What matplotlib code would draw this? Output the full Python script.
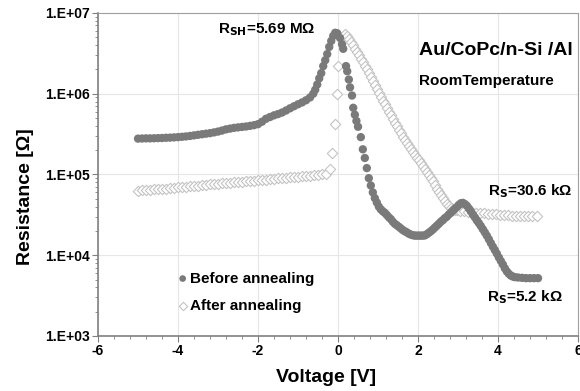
import numpy as np
import matplotlib
matplotlib.use("Agg")
import matplotlib.pyplot as plt
from matplotlib.ticker import MultipleLocator, LogLocator, FuncFormatter

plt.rcParams['font.family'] = ['Liberation Sans', 'DejaVu Sans']
plt.rcParams['font.weight'] = 'bold'

# Before annealing (filled gray circles)
v_before = [-5.0, -4.9, -4.8, -4.7, -4.6, -4.5, -4.4, -4.3, -4.2, -4.1, -4.0,
            -3.9, -3.8, -3.7, -3.6, -3.5, -3.4, -3.3, -3.2, -3.1, -3.0,
            -2.9, -2.8, -2.7, -2.6, -2.5, -2.4, -2.3, -2.2, -2.1, -2.0,
            -1.9, -1.8, -1.7, -1.6, -1.5, -1.4, -1.3, -1.2, -1.1, -1.0,
            -0.9, -0.8, -0.7, -0.62, -0.57, -0.52, -0.47, -0.42, -0.37, -0.32,
            -0.27, -0.22, -0.17, -0.12, -0.07, -0.02, 0.05, 0.1, 0.13, 0.2,
            0.23, 0.27, 0.3, 0.35, 0.38, 0.42, 0.46, 0.5, 0.57, 0.62,
            0.67, 0.72, 0.77, 0.82, 0.87, 0.92, 0.97, 1.02, 1.07, 1.12,
            1.17, 1.22, 1.27, 1.32, 1.37, 1.42, 1.47, 1.52, 1.57, 1.62,
            1.67, 1.72, 1.77, 1.82, 1.87, 1.92, 1.97, 2.02, 2.07, 2.12,
            2.17, 2.22, 2.27, 2.32, 2.37, 2.42, 2.47, 2.52, 2.57, 2.62,
            2.67, 2.72, 2.77, 2.82, 2.87, 2.92, 2.97, 3.02, 3.07, 3.12,
            3.17, 3.22, 3.27, 3.32, 3.37, 3.42, 3.47, 3.52, 3.57, 3.62,
            3.67, 3.72, 3.77, 3.82, 3.87, 3.92, 3.97, 4.02, 4.07, 4.12,
            4.17, 4.22, 4.27, 4.32, 4.37, 4.42, 4.5, 4.6, 4.7, 4.8, 4.9, 5.0]
r_before = [2.78e5, 2.79e5, 2.8e5, 2.8e5, 2.81e5, 2.82e5, 2.83e5, 2.85e5, 2.86e5, 2.88e5, 2.9e5,
            2.93e5, 2.96e5, 3.0e5, 3.05e5, 3.1e5, 3.15e5, 3.2e5, 3.25e5, 3.32e5, 3.4e5,
            3.5e5, 3.62e5, 3.7e5, 3.78e5, 3.83e5, 3.88e5, 3.93e5, 4.0e5, 4.08e5, 4.2e5,
            4.5e5, 4.9e5, 5.15e5, 5.4e5, 5.6e5, 5.85e5, 6.2e5, 6.6e5, 7.0e5, 7.4e5,
            7.8e5, 8.3e5, 9.0e5, 1.0e6, 1.12e6, 1.3e6, 1.55e6, 1.8e6, 2.2e6, 2.6e6,
            3.1e6, 3.8e6, 4.5e6, 5.2e6, 5.69e6, 5.6e6, 4.9e6, 4.1e6, 3.6e6, 2.2e6,
            1.9e6, 1.5e6, 1.2e6, 9.5e5, 6.7e5, 5.5e5, 4.6e5, 3.9e5, 2.9e5, 2.05e5,
            1.6e5, 1.2e5, 9.0e4, 7.3e4, 6.0e4, 5.1e4, 4.5e4, 4.0e4, 3.7e4, 3.5e4,
            3.35e4, 3.15e4, 2.95e4, 2.8e4, 2.6e4, 2.45e4, 2.35e4, 2.25e4, 2.15e4, 2.05e4,
            1.98e4, 1.92e4, 1.85e4, 1.8e4, 1.77e4, 1.75e4, 1.75e4, 1.75e4, 1.75e4, 1.75e4,
            1.76e4, 1.82e4, 1.9e4, 1.98e4, 2.08e4, 2.2e4, 2.32e4, 2.45e4, 2.6e4, 2.72e4,
            2.88e4, 3.0e4, 3.2e4, 3.35e4, 3.55e4, 3.75e4, 3.95e4, 4.2e4, 4.4e4, 4.45e4,
            4.3e4, 4.1e4, 3.8e4, 3.5e4, 3.2e4, 2.95e4, 2.7e4, 2.5e4, 2.3e4, 2.1e4,
            1.92e4, 1.75e4, 1.58e4, 1.42e4, 1.28e4, 1.16e4, 1.05e4, 9.4e3, 8.5e3, 7.7e3,
            6.9e3, 6.3e3, 5.9e3, 5.6e3, 5.45e3, 5.35e3, 5.3e3, 5.25e3, 5.2e3, 5.2e3, 5.2e3, 5.2e3]

# After annealing (open diamonds)
v_after = [-5.0, -4.9, -4.8, -4.7, -4.6, -4.5, -4.4, -4.3, -4.2, -4.1, -4.0,
           -3.9, -3.8, -3.7, -3.6, -3.5, -3.4, -3.3, -3.2, -3.1, -3.0,
           -2.9, -2.8, -2.7, -2.6, -2.5, -2.4, -2.3, -2.2, -2.1, -2.0,
           -1.9, -1.8, -1.7, -1.6, -1.5, -1.4, -1.3, -1.2, -1.1, -1.0,
           -0.9, -0.8, -0.7, -0.6, -0.5, -0.4, -0.3, -0.2, -0.15, -0.08,
           -0.03, 0.0, 0.1, 0.17, 0.22, 0.27, 0.32, 0.37, 0.42, 0.47,
           0.52, 0.57, 0.62, 0.67, 0.72, 0.77, 0.82, 0.87, 0.92, 0.97,
           1.02, 1.07, 1.12, 1.17, 1.22, 1.27, 1.32, 1.37, 1.42, 1.47,
           1.52, 1.57, 1.62, 1.67, 1.72, 1.77, 1.82, 1.87, 1.92, 1.97,
           2.02, 2.07, 2.12, 2.17, 2.22, 2.27, 2.32, 2.37, 2.42, 2.47,
           2.52, 2.57, 2.62, 2.67, 2.72, 2.77, 2.82, 2.87, 2.92, 2.97,
           3.05, 3.15, 3.25, 3.35, 3.45, 3.55, 3.65, 3.75, 3.85, 3.95,
           4.05, 4.15, 4.25, 4.35, 4.45, 4.55, 4.65, 4.75, 4.85, 4.97]
r_after = [6.3e4, 6.35e4, 6.4e4, 6.5e4, 6.55e4, 6.6e4, 6.65e4, 6.7e4, 6.8e4, 6.85e4, 6.9e4,
           6.95e4, 7.0e4, 7.1e4, 7.2e4, 7.3e4, 7.35e4, 7.45e4, 7.55e4, 7.6e4, 7.7e4,
           7.75e4, 7.85e4, 7.9e4, 8.0e4, 8.1e4, 8.15e4, 8.25e4, 8.3e4, 8.4e4, 8.5e4,
           8.55e4, 8.65e4, 8.75e4, 8.85e4, 8.95e4, 9.0e4, 9.1e4, 9.2e4, 9.3e4, 9.4e4,
           9.45e4, 9.55e4, 9.65e4, 9.75e4, 9.85e4, 1.0e5, 1.02e5, 1.18e5, 1.87e5, 4.2e5,
           1.0e6, 2.2e6, 5.0e6, 5.5e6, 5.2e6, 4.8e6, 4.4e6, 4.0e6, 3.6e6, 3.3e6,
           3.0e6, 2.7e6, 2.45e6, 2.2e6, 2.0e6, 1.8e6, 1.6e6, 1.45e6, 1.3e6, 1.15e6,
           1.02e6, 9.2e5, 8.2e5, 7.4e5, 6.6e5, 6.0e5, 5.4e5, 4.9e5, 4.4e5, 4.0e5,
           3.6e5, 3.25e5, 2.95e5, 2.7e5, 2.45e5, 2.25e5, 2.05e5, 1.9e5, 1.75e5, 1.62e5,
           1.5e5, 1.38e5, 1.27e5, 1.17e5, 1.08e5, 9.9e4, 9.0e4, 8.2e4, 7.4e4, 6.7e4,
           6.1e4, 5.6e4, 5.1e4, 4.7e4, 4.35e4, 4.1e4, 3.9e4, 3.75e4, 3.65e4, 3.6e4,
           3.55e4, 3.5e4, 3.45e4, 3.4e4, 3.38e4, 3.35e4, 3.3e4, 3.27e4, 3.24e4, 3.2e4,
           3.18e4, 3.15e4, 3.13e4, 3.1e4, 3.1e4, 3.08e4, 3.07e4, 3.06e4, 3.06e4, 3.06e4]

fig = plt.figure(figsize=(5.8, 3.91), dpi=100)
ax = fig.add_axes([0.169, 0.1407, 0.8276, 0.8261])

ax.scatter(v_after, r_after, marker='D', s=28, facecolors='white',
           edgecolors='#c4c4c4', linewidths=0.8, zorder=3, label='After annealing')
ax.scatter(v_before, r_before, marker='o', s=36, color='#7a7a7a',
           edgecolors='none', zorder=4, label='Before annealing')

ax.set_yscale('log')
ax.set_xlim(-6, 6)
ax.set_ylim(1e3, 1e7)
ax.xaxis.set_major_locator(MultipleLocator(2))
ax.xaxis.set_minor_locator(MultipleLocator(0.4))
ax.yaxis.set_major_locator(LogLocator(base=10, numticks=10))
ax.yaxis.set_minor_locator(LogLocator(base=10, subs=np.arange(2, 10), numticks=10))
ax.yaxis.set_minor_formatter(FuncFormatter(lambda v, p: ''))
ax.yaxis.set_major_formatter(FuncFormatter(lambda v, p: '1.E+%02d' % int(round(np.log10(v)))))
ax.xaxis.set_major_formatter(FuncFormatter(lambda v, p: '%d' % v))

ax.grid(True, which='major', color='#e6e6e6', linewidth=0.8, zorder=0)
ax.set_axisbelow(True)
for s in ['left', 'bottom']:
    ax.spines[s].set_color('#808080')
    ax.spines[s].set_linewidth(1.2)
for s in ['top', 'right']:
    ax.spines[s].set_color('#a0a0a0')
    ax.spines[s].set_linewidth(0.8)

ax.tick_params(which='major', direction='out', length=4, color='#808080',
               labelsize=10, pad=2)
ax.tick_params(which='minor', direction='out', length=2.5, color='#808080')
for lab in ax.get_xticklabels() + ax.get_yticklabels():
    lab.set_fontweight('bold')

ax.set_xlabel('Voltage [V]', fontsize=14, fontweight='bold')
ax.set_ylabel('Resistance [Ω]', fontsize=14, fontweight='bold')
ax.xaxis.set_label_coords(0.475, -0.102)
ax.yaxis.set_label_coords(-0.133, 0.43)

ax.text(-3.0, 6.3e6, 'R$_{\\mathbf{SH}}$=5.69 MΩ', fontsize=11, fontweight='bold',
        ha='left', va='center')
ax.text(2.02, 3.4e6, 'Au/CoPc/n-Si /Al', fontsize=14, fontweight='bold',
        ha='left', va='center')
ax.text(2.02, 1.45e6, 'RoomTemperature', fontsize=11, fontweight='bold',
        ha='left', va='center')
ax.text(3.75, 6.3e4, 'R$_{\\mathbf{S}}$=30.6 kΩ', fontsize=11, fontweight='bold',
        ha='left', va='center')
ax.text(3.72, 3.0e3, 'R$_{\\mathbf{S}}$=5.2 kΩ', fontsize=11, fontweight='bold',
        ha='left', va='center')

h, l = ax.get_legend_handles_labels()
leg = ax.legend(h[::-1], l[::-1], loc='lower left', bbox_to_anchor=(0.135, 0.03),
                frameon=False, handletextpad=0.05, handlelength=0.8,
                markerscale=0.8, labelspacing=0.85, prop={'weight': 'bold', 'size': 11})

fig.savefig('out.png', dpi=100)
